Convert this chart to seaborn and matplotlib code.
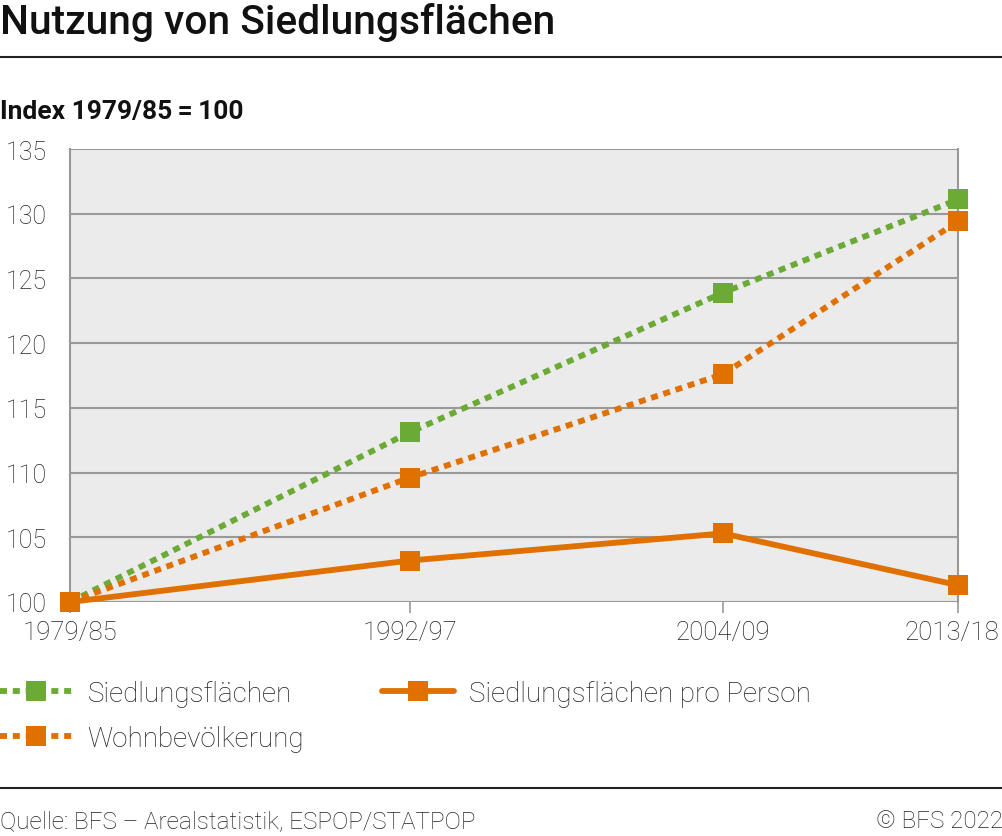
import pandas as pd
import numpy as np
import matplotlib.pyplot as plt
import matplotlib.transforms as mtransforms
import seaborn as sns

# =====================
# Data
# =====================
periods = ['1979/85', '1992/97', '2004/09', '2013/18']
period_start = [1979, 1992, 2004, 2013]
siedlung = [100, 113.1, 123.9, 131.1]
wohnbev = [100, 109.6, 117.6, 129.4]
pro_person = [100, 103.2, 105.3, 101.3]

series_names = ['Siedlungsflächen', 'Wohnbevölkerung', 'Siedlungsflächen pro Person']
series_colors = ['#6aaa35', '#e07000', '#e07000']
series_dotted = [True, True, False]

df = pd.DataFrame({
    'year': period_start * 3,
    'value': siedlung + wohnbev + pro_person,
    'series': np.repeat(series_names, len(period_start)),
})

# =====================
# Style
# =====================
sns.set_style('white')
plt.rcParams['font.family'] = ['Roboto', 'DejaVu Sans']

fig = plt.figure(figsize=(10.03, 8.37), dpi=100)
ax = fig.add_axes([70 / 1003, 1 - 603 / 837, 888 / 1003, 453 / 837])
ax.set_facecolor('#ebebeb')

for name, color, dotted in zip(series_names, series_colors, series_dotted):
    sub = df[df['series'] == name]
    sns.lineplot(data=sub, x='year', y='value', ax=ax, color=color,
                 linewidth=4.2, marker='s', markersize=15,
                 markeredgewidth=0, label=name, zorder=3)
    if dotted:
        ax.lines[-1].set_dashes((1.2, 1.0))

ax.set_xlim(1979, 2013)
ax.set_ylim(100, 135)
ax.set_yticks(range(100, 136, 5))
ax.set_xticks(period_start)
ax.set_xticklabels(periods)
ax.grid(axis='y', color='#999999', linewidth=1.5, zorder=0)
ax.set_axisbelow(True)
for s in ['top', 'bottom']:
    ax.spines[s].set_visible(False)
ax.spines['left'].set_color('#999999')
ax.spines['left'].set_linewidth(1.5)
ax.spines['right'].set_visible(True)
ax.spines['right'].set_color('#999999')
ax.spines['right'].set_linewidth(1.5)
ax.tick_params(axis='x', length=8, width=1.2, color='#999999', pad=5,
               labelsize=18.5, labelcolor='#222222', direction='out', bottom=True)
ax.tick_params(axis='y', length=0, pad=16.5, labelsize=18, labelcolor='#222222')
for lbl in ax.get_xticklabels() + ax.get_yticklabels():
    lbl.set_fontweight('light')
# last x label sits a little inside the right edge
last = ax.get_xticklabels()[-1]
last.set_transform(last.get_transform() +
                   mtransforms.ScaledTranslation(-0.06, 0, fig.dpi_scale_trans))
ax.set_xlabel('')
ax.set_ylabel('')
for ln in ax.lines:
    ln.set_clip_on(False)

leg = ax.legend(loc='upper left', bbox_to_anchor=(-70 / 888, -0.172), ncol=2,
                frameon=False, fontsize=20, handlelength=2.6, handletextpad=0.55,
                columnspacing=2.8, labelspacing=0.65, borderaxespad=0, borderpad=0)
for t in leg.get_texts():
    t.set_fontweight('light')
    t.set_color('#222222')

# =====================
# Titles and footer
# =====================
fig.text(0.0, 1 - 22 / 837, 'Nutzung von Siedlungsflächen', fontsize=29.3,
         fontweight='medium', va='center', ha='left', color='#111111')
fig.add_artist(plt.Line2D([0, 1], [1 - 58 / 837] * 2, color='#222222', linewidth=1.5))
fig.text(0.0, 1 - 112 / 837, 'Index 1979/85\u2009=\u2009100', fontsize=19,
         fontweight='bold', va='center', ha='left', color='#111111')
fig.add_artist(plt.Line2D([0, 1], [1 - 789 / 837] * 2, color='#222222', linewidth=1.5))
fig.text(0.0, 1 - 822 / 837, 'Quelle: BFS – Arealstatistik, ESPOP/STATPOP',
         fontsize=17.5, fontweight='light', va='center', ha='left', color='#222222')
fig.text(1.0, 1 - 822 / 837, '© BFS 2022', fontsize=17.5, fontweight='light',
         va='center', ha='right', color='#222222')

plt.savefig('out.png', dpi=100)
